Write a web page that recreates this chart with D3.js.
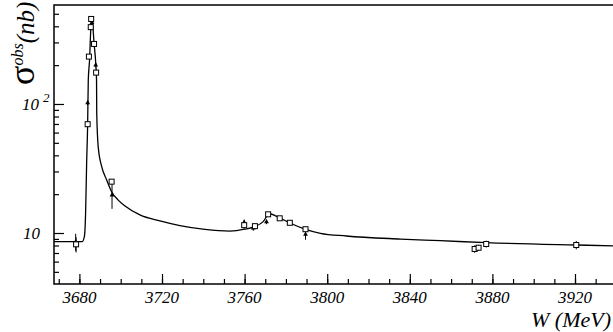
<!DOCTYPE html>
<html>
<head>
<meta charset="utf-8">
<script src="https://cdn.jsdelivr.net/npm/d3@7"></script>
<style>
	body { margin: 0; background: #fff; }
	svg { display: block; }
	text { font-family: "Liberation Serif", "Times New Roman", serif; font-style: italic; fill: #000; }
</style>
</head>
<body>
<script>
// Fitted curve
const curveW = [3667.7, 3681.4, 3682.4, 3683.0, 3683.5, 3684.0, 3684.3, 3684.9, 3685.5, 3686.0,
	3686.3, 3687.1, 3687.9, 3688.3, 3688.4, 3689.1, 3690.8, 3693.2, 3695.6, 3698.8, 3702.1,
	3709.3, 3719.0, 3728.7, 3740.8, 3752.9, 3760.1, 3764.9, 3769.0, 3772.0, 3777.3, 3782.2,
	3789.5, 3796.7, 3809.3, 3835.5, 3854.8, 3877.0, 3920.6, 3938.4];
const curveXsec = [8.57, 8.57, 9.36, 14.2, 34.6, 70.7, 153, 216, 375, 472,
	440, 297, 208, 153, 84.8, 46.7, 32.7, 25.8, 20.9, 18.0, 16.2,
	13.8, 12.4, 11.4, 10.65, 10.35, 10.7, 11.2, 12.25, 14.1, 13.0, 11.9,
	10.68, 9.95, 9.48, 8.98, 8.72, 8.41, 8.07, 7.96];

// Data set 1 (open squares)
const sqW = [3678.4, 3684.0, 3684.6, 3685.5, 3685.7, 3687.1, 3688.1, 3695.6, 3759.8, 3765.0,
	3771.4, 3777.0, 3781.9, 3789.5, 3871.4, 3873.3, 3877.0, 3920.6];
const sqXsec = [8.17, 69.7, 233, 394, 456, 292, 175, 25.0, 11.5, 11.3,
	13.96, 13.0, 12.0, 10.7, 7.52, 7.69, 8.22, 8.07];
const sqErr = [1.1, 2, 6, 8, 9, 7, 5, 0.8, 0.7, 0.4,
	0.4, 0.4, 0.4, 0.4, 0.5, 0.4, 0.5, 0.6];

// Data set 2 (small triangles)
const triW = [3678.2, 3684.0, 3686.1, 3687.9, 3695.8, 3759.8, 3764.2, 3770.6, 3789.5];
const triXsec = [8.56, 102, 427, 200, 19.7, 12.1, 10.9, 12.2, 9.77];
const triErr = [1.3, 4, 10, 8, 4.3, 0.6, 0.5, 0.5, 0.9];

const xMajorTicks = [3680, 3720, 3760, 3800, 3840, 3880, 3920];
const xMinorTicks = d3.range(3670, 3940, 10);
const yMinorTicks = [5, 6, 7, 8, 9, 20, 30, 40, 50, 60, 70, 80, 90, 200, 300, 400, 500];
const yMajorTicks = [10, 100];

const W = 613, H = 332;
const plotLeft = 54, plotRight = 613, plotTop = 5, plotBottom = 284;

const svg = d3.select('body').append('svg')
	.attr('width', W)
	.attr('height', H);

const x = d3.scaleLinear().domain([3667.7, 3938.4]).range([plotLeft, plotRight]);
const y = d3.scaleLog().domain([4.025, 585]).range([plotBottom, plotTop]);

// Frame
svg.append('rect')
	.attr('x', plotLeft).attr('y', plotTop)
	.attr('width', plotRight - plotLeft + 5).attr('height', plotBottom - plotTop)
	.attr('fill', 'none').attr('stroke', '#000').attr('stroke-width', 1.5);

// X axis ticks (drawn inward)
const xAxisMinor = d3.axisTop(x).tickValues(xMinorTicks).tickSize(5).tickFormat('');
const xAxisMajor = d3.axisTop(x).tickValues(xMajorTicks).tickSize(10).tickFormat('');
svg.append('g').attr('transform', `translate(0,${plotBottom})`).call(xAxisMinor);
svg.append('g').attr('transform', `translate(0,${plotBottom})`).call(xAxisMajor);

const yAxisMinor = d3.axisRight(y).tickValues(yMinorTicks).tickSize(5).tickFormat('');
const yAxisMajor = d3.axisRight(y).tickValues(yMajorTicks).tickSize(10).tickFormat('');
svg.append('g').attr('transform', `translate(${plotLeft},0)`).call(yAxisMinor);
svg.append('g').attr('transform', `translate(${plotLeft},0)`).call(yAxisMajor);

svg.selectAll('.domain').remove();
svg.selectAll('.tick line').attr('stroke', '#000').attr('stroke-width', 1.2);

// X tick labels
svg.selectAll('.xlab')
	.data(xMajorTicks)
	.enter().append('text')
	.attr('x', d => x(d))
	.attr('y', 303)
	.attr('text-anchor', 'middle')
	.style('font-size', '17px')
	.text(d => d);

// Y tick labels
svg.append('text')
	.attr('x', 40).attr('y', y(10) + 6)
	.attr('text-anchor', 'end')
	.style('font-size', '17px')
	.text('10');

const lab100 = svg.append('text')
	.attr('x', 22).attr('y', y(100) + 6)
	.style('font-size', '17px');
lab100.append('tspan').text('10');
lab100.append('tspan').attr('dx', 4).attr('dy', -8).style('font-size', '13px').text('2');

// Axis titles
svg.append('text')
	.attr('x', 611).attr('y', 327)
	.attr('text-anchor', 'end')
	.style('font-size', '22px')
	.text('W (MeV)');

const ytitle = svg.append('text')
	.attr('transform', 'translate(34,85) rotate(-90)');
ytitle.append('tspan').style('font-size', '36px').style('font-style', 'normal').text('σ');
ytitle.append('tspan').attr('dy', -11).style('font-size', '16px').text('obs');
ytitle.append('tspan').attr('dy', 11).style('font-size', '25px').text('(nb)');

// Curve
const curveData = curveW.map((w, i) => ({ w: w, v: curveXsec[i] }));
svg.append('path')
	.datum(curveData)
	.attr('fill', 'none')
	.attr('stroke', '#000')
	.attr('stroke-width', 1.3)
	.attr('d', d3.line().x(d => x(d.w)).y(d => y(d.v)).curve(d3.curveMonotoneX));

// Error bars
const sqData = sqW.map((w, i) => ({ w: w, v: sqXsec[i], e: sqErr[i] }));
const triData = triW.map((w, i) => ({ w: w, v: triXsec[i], e: triErr[i] }));

svg.selectAll('.err')
	.data(sqData.concat(triData))
	.enter().append('line')
	.attr('x1', d => x(d.w)).attr('x2', d => x(d.w))
	.attr('y1', d => y(d.v + d.e)).attr('y2', d => y(Math.max(d.v - d.e, 4.1)))
	.attr('stroke', '#000').attr('stroke-width', 1);

// Triangles
svg.selectAll('.tri')
	.data(triData)
	.enter().append('path')
	.attr('transform', d => `translate(${x(d.w)},${y(d.v)})`)
	.attr('d', d3.symbol().type(d3.symbolTriangle).size(10))
	.attr('fill', '#000');

// Squares
svg.selectAll('.sq')
	.data(sqData)
	.enter().append('rect')
	.attr('x', d => x(d.w) - 2.5)
	.attr('y', d => y(d.v) - 2.5)
	.attr('width', 5).attr('height', 5)
	.attr('fill', '#fff')
	.attr('stroke', '#000')
	.attr('stroke-width', 1);
</script>
</body>
</html>
